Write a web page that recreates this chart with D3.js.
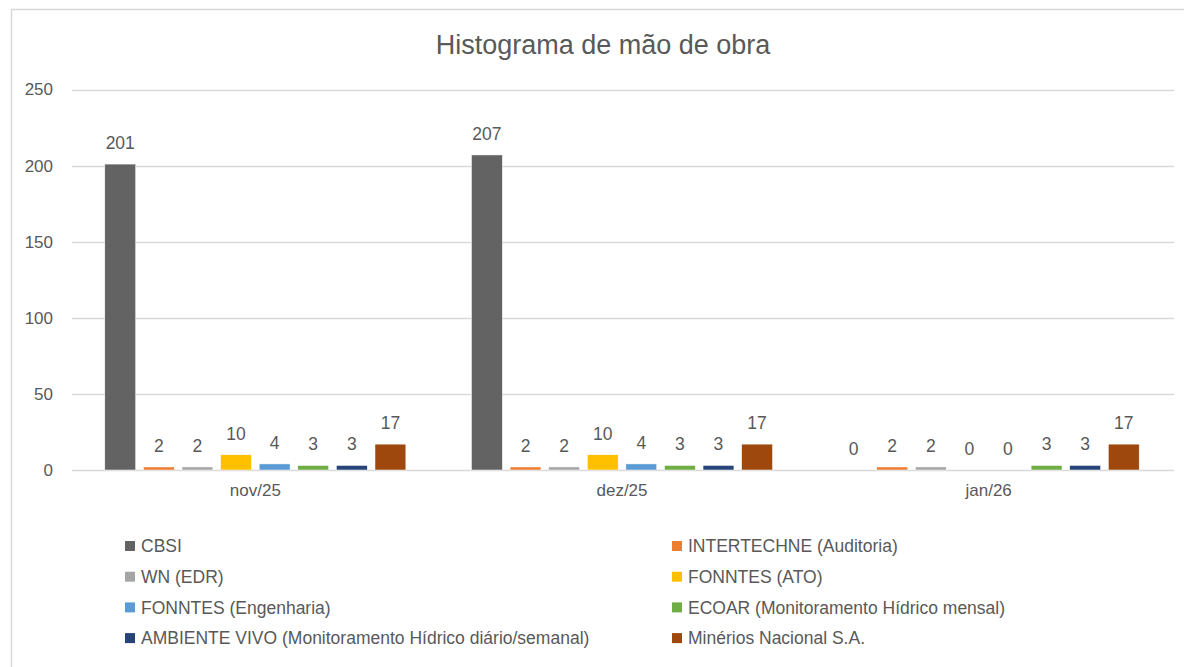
<!DOCTYPE html>
<html>
<head>
<meta charset="utf-8">
<script src="https://cdn.jsdelivr.net/npm/d3@7"></script>
<style>
  body { margin: 0; background: #fff; }
  text { font-family: "Liberation Sans", Arial, sans-serif; fill: #595959; }
</style>
</head>
<body>
<svg id="chart"></svg>
<script>
const months = ['nov/25', 'dez/25', 'jan/26'];
const series = [
  'CBSI',
  'INTERTECHNE (Auditoria)',
  'WN (EDR)',
  'FONNTES (ATO)',
  'FONNTES (Engenharia)',
  'ECOAR (Monitoramento Hídrico mensal)',
  'AMBIENTE VIVO (Monitoramento Hídrico diário/semanal)',
  'Minérios Nacional S.A.'
];
// values per series, one per month
const cbsi = [201, 207, 0];
const intertechne = [2, 2, 2];
const wn = [2, 2, 2];
const fonntesAto = [10, 10, 0];
const fonntesEng = [4, 4, 0];
const ecoar = [3, 3, 3];
const ambienteVivo = [3, 3, 3];
const minerios = [17, 17, 17];
const yTicks = [0, 50, 100, 150, 200, 250];
const colors = ['#636363', '#ED7D31', '#A5A5A5', '#FFC000', '#5B9BD5', '#70AD47', '#264478', '#9E480E'];

const values = [cbsi, intertechne, wn, fonntesAto, fonntesEng, ecoar, ambienteVivo, minerios];

const width = 1184, height = 667;
const svg = d3.select('#chart').attr('width', width).attr('height', height);

// chart frame (cropped at right and bottom like the original)
svg.append('rect')
  .attr('x', 11.5).attr('y', 9.5)
  .attr('width', 1200).attr('height', 700)
  .attr('fill', '#fff').attr('stroke', '#d9d9d9').attr('stroke-width', 1.5);

svg.append('text')
  .attr('x', 603).attr('y', 54)
  .attr('text-anchor', 'middle')
  .style('font-size', '27px')
  .text('Histograma de mão de obra');

const y = d3.scaleLinear().domain([0, 250]).range([470, 89.5]);
const x0 = d3.scaleBand().domain(months).range([72, 1172]);
const x1 = d3.scaleBand().domain(series).range([0, x0.bandwidth()])
  .paddingInner(0.2).paddingOuter(0.85);
const color = d3.scaleOrdinal().domain(series).range(colors);

// gridlines
svg.append('g').selectAll('line')
  .data(yTicks)
  .enter().append('line')
  .attr('x1', 72).attr('x2', 1174)
  .attr('y1', d => Math.round(y(d)) + 0.5).attr('y2', d => Math.round(y(d)) + 0.5)
  .attr('stroke', '#d9d9d9').attr('stroke-width', 1.5);

// y axis labels
const yAxis = d3.axisLeft(y).tickValues(yTicks).tickSize(0).tickPadding(0);
const gy = svg.append('g').attr('transform', 'translate(53,0)').call(yAxis);
gy.select('.domain').remove();
gy.selectAll('text').style('font-size', '17px').attr('fill', '#595959')
  .style('font-family', '"Liberation Sans", Arial, sans-serif');

// x axis labels
const xAxis = d3.axisBottom(x0).tickSize(0).tickPadding(0);
const gx = svg.append('g').attr('transform', 'translate(0,484)').call(xAxis);
gx.select('.domain').remove();
gx.selectAll('text').style('font-size', '17px').attr('fill', '#595959')
  .style('font-family', '"Liberation Sans", Arial, sans-serif');

// bars
const groups = svg.append('g').selectAll('g')
  .data(months)
  .enter().append('g')
  .attr('transform', d => `translate(${x0(d)},0)`);

const cells = groups.selectAll('g')
  .data((m, i) => series.map((s, j) => ({ s, v: values[j][i] })))
  .enter().append('g');

cells.append('rect')
  .attr('x', d => x1(d.s))
  .attr('width', x1.bandwidth())
  .attr('y', d => y(d.v))
  .attr('height', d => y(0) - y(d.v))
  .attr('fill', d => color(d.s))
  .attr('stroke', d => d.v > 0 ? '#fff' : 'none')
  .attr('stroke-width', 0.5);

cells.append('text')
  .attr('x', d => x1(d.s) + x1.bandwidth() / 2)
  .attr('y', d => y(d.v) - 15)
  .attr('text-anchor', 'middle')
  .style('font-size', '17.5px')
  .text(d => d.v);

// legend
const legend = svg.append('g').selectAll('g')
  .data(series)
  .enter().append('g')
  .attr('transform', (d, i) => `translate(${i % 2 === 0 ? 125 : 672},${546 + Math.floor(i / 2) * 30.7})`);

legend.append('rect')
  .attr('x', 0).attr('y', -5)
  .attr('width', 10).attr('height', 10)
  .attr('fill', d => color(d));

legend.append('text')
  .attr('x', 16).attr('y', 0)
  .attr('dy', '0.35em')
  .style('font-size', '17.5px')
  .text(d => d);
</script>
</body>
</html>
